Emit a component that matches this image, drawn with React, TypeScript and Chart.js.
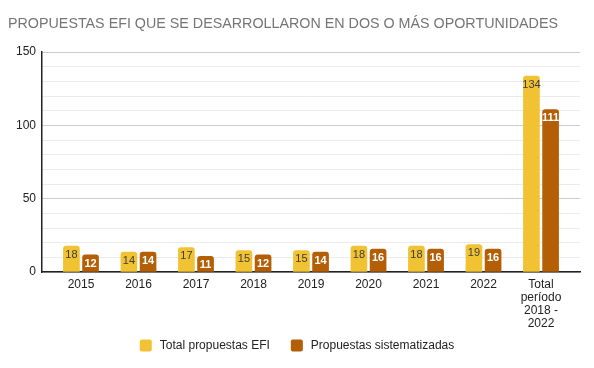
import React, { useEffect, useRef } from "react";
import { Chart, registerables } from "chart.js";

Chart.register(...registerables);

const categories = ["2015", "2016", "2017", "2018", "2019", "2020", "2021", "2022", ["Total", "período", "2018 -", "2022"]];
const totalEFI = [18, 14, 17, 15, 15, 18, 18, 19, 134];
const sistematizadas = [12, 14, 11, 12, 14, 16, 16, 16, 111];
const seriesNames = ["Total propuestas EFI", "Propuestas sistematizadas"];
const seriesColors = ["#F1C232", "#B45F06"];
const titleText = "PROPUESTAS EFI QUE SE DESARROLLARON EN DOS O MÁS OPORTUNIDADES";

const FONT = "'Liberation Sans', Arial, sans-serif";

const barLabels = {
  id: "barLabels",
  afterDatasetsDraw(chart: any) {
    const ctx = chart.ctx;
    chart.data.datasets.forEach((ds: any, i: number) => {
      const meta = chart.getDatasetMeta(i);
      meta.data.forEach((bar: any, j: number) => {
        const v = ds.data[j];
        ctx.save();
        ctx.textAlign = "center";
        ctx.textBaseline = "middle";
        if (i === 0) {
          ctx.fillStyle = "#3d3d3d";
          ctx.font = "11px " + FONT;
        } else {
          ctx.fillStyle = "#ffffff";
          ctx.font = "bold 11px " + FONT;
        }
        ctx.fillText(String(v), bar.x, bar.y + 9);
        ctx.restore();
      });
    });
  },
};

const bottomLegend = {
  id: "bottomLegend",
  afterDraw(chart: any) {
    const ctx = chart.ctx;
    const box = 12;
    const textGap = 8;
    const itemGap = 21;
    const cy = 345.5;
    ctx.save();
    ctx.font = "12px " + FONT;
    const items = chart.data.datasets.map((ds: any) => ({
      text: ds.label,
      color: ds.backgroundColor,
      w: box + textGap + ctx.measureText(ds.label).width,
    }));
    const total = items.reduce((s: number, it: any) => s + it.w, 0) + itemGap * (items.length - 1);
    let x = chart.width / 2 - total / 2;
    items.forEach((it: any) => {
      ctx.fillStyle = it.color;
      ctx.beginPath();
      (ctx as any).roundRect(x, cy - box / 2, box, box, 2);
      ctx.fill();
      ctx.fillStyle = "#222";
      ctx.textAlign = "left";
      ctx.textBaseline = "middle";
      ctx.fillText(it.text, x + box + textGap, cy);
      x += it.w + itemGap;
    });
    ctx.restore();
  },
};

export default function App() {
  const ref = useRef<HTMLCanvasElement>(null);
  useEffect(() => {
    document.body.style.margin = "0";
    const common = {
      borderRadius: { topLeft: 3, topRight: 3, bottomLeft: 0, bottomRight: 0 },
      borderSkipped: false,
      categoryPercentage: 0.666,
      barPercentage: 0.87,
    };
    const chart = new Chart(ref.current!, {
      type: "bar",
      data: {
        labels: categories as any,
        datasets: [
          { label: seriesNames[0], data: totalEFI, backgroundColor: seriesColors[0], ...common },
          { label: seriesNames[1], data: sistematizadas, backgroundColor: seriesColors[1], ...common },
        ],
      },
      options: {
        responsive: false,
        animation: false,
        layout: { padding: { left: 8, right: 14, top: 0, bottom: 32 } },
        plugins: {
          title: {
            display: true,
            text: titleText,
            align: "start",
            color: "#757575",
            font: { size: 14.3, family: FONT, weight: "normal" },
            padding: { top: 15, bottom: 20 },
          },
          legend: { display: false },
          tooltip: { enabled: false },
        },
        scales: {
          x: {
            grid: { display: false, drawTicks: false },
            border: { color: "#222", width: 1.5 },
            afterBuildTicks: (scale: any) => {
              const e = 0.178;
              scale._startValue = -0.5 - e;
              scale._valueRange = categories.length + 2 * e;
            },
            ticks: {
              color: "#222",
              font: { size: 12, family: FONT, lineHeight: 1.08 },
              maxRotation: 0,
              padding: 6,
            },
          },
          y: {
            min: 0,
            max: 150,
            afterFit: (scale: any) => {
              scale.width = 34;
            },
            grid: {
              color: (c: any) => (c.tick && c.tick.value % 50 === 0 ? "#cccccc" : "#ebebeb"),
              drawTicks: false,
            },
            border: { color: "#222", width: 1.5 },
            ticks: {
              stepSize: 10,
              autoSkip: false,
              color: "#222",
              padding: 6,
              font: { size: 12, family: FONT },
              callback: (v: any) => (v % 50 === 0 ? String(v) : ""),
            },
          },
        },
      },
      plugins: [barLabels, bottomLegend],
    });
    return () => chart.destroy();
  }, []);
  return (
    <div style={{ width: 594, height: 368 }}>
      <canvas ref={ref} width={594} height={368} />
    </div>
  );
}
